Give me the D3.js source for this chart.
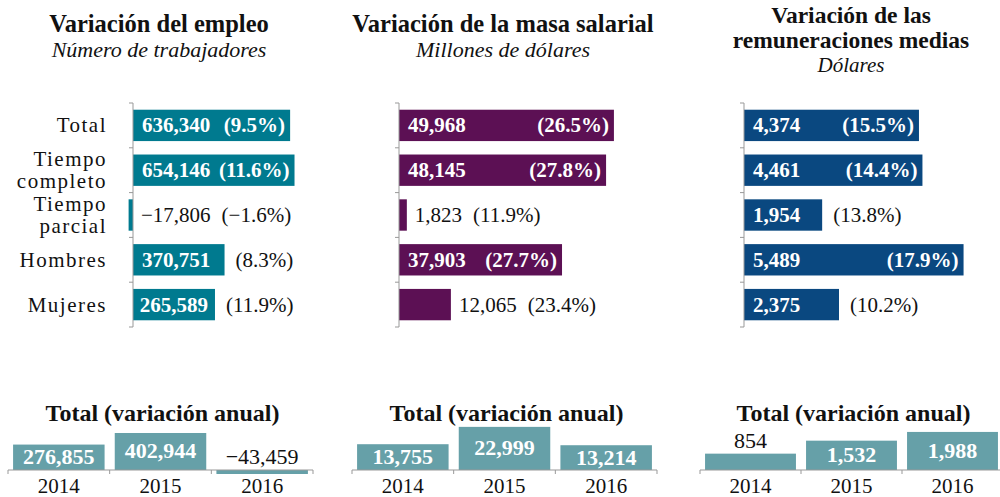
<!DOCTYPE html>
<html>
<head>
<meta charset="utf-8">
<script src="https://cdn.jsdelivr.net/npm/d3@7"></script>
<style>
  body { margin: 0; background: #fff; }
  svg { display: block; font-family: "Liberation Serif", serif; }
  .title { font-weight: bold; font-size: 24.5px; fill: #111; }
  .sub { font-style: italic; font-size: 22px; fill: #111; }
  .cat { font-size: 21px; letter-spacing: 1.5px; fill: #111; }
  .val-in { font-weight: bold; font-size: 21px; fill: #fff; }
  .val-out { font-size: 21px; fill: #111; }
  .big-in { font-weight: bold; font-size: 22px; fill: #fff; }
  .big-out { font-size: 22px; fill: #111; }
  .year { font-size: 21px; fill: #111; }
</style>
</head>
<body>
<div class="chart"></div>
<script>
var categories = ['Total', 'Tiempo|completo', 'Tiempo|parcial', 'Hombres', 'Mujeres'];

var empleo = [636340, 654146, -17806, 370751, 265589];
var empleoPct = [9.5, 11.6, -1.6, 8.3, 11.9];
// bar lengths as the source draws them: its Mujeres bar is longer than 265,589
var empleoBars = [636340, 654146, -17806, 370751, 332000];

var masa = [49968, 48145, 1823, 37903, 12065];
var masaPct = [26.5, 27.8, 11.9, 27.7, 23.4];

var remun = [4374, 4461, 1954, 5489, 2375];
var remunPct = [15.5, 14.4, 13.8, 17.9, 10.2];

var years = ['2014', '2015', '2016'];
var empleoAnual = [276855, 402944, -43459];
var masaAnual = [13755, 22999, 13214];
var remunAnual = [854, 1532, 1988];

var panels = [
  { title: ['Variación del empleo'], titleY: [32], titleSize: 24.5, sub: 'Número de trabajadores', subY: 57, subSize: 22,
    values: empleo, bars: empleoBars, pct: empleoPct, anual: empleoAnual,
    color: '#007a8f', axisX: 133, max: 810000, cx: 159, bx: [8, 313], bmax: 490000 },
  { title: ['Variación de la masa salarial'], titleY: [32], titleSize: 24.5, sub: 'Millones de dólares', subY: 57, subSize: 22,
    values: masa, bars: masa, pct: masaPct, anual: masaAnual,
    color: '#5c1054', axisX: 399, max: 46500, cx: 503, bx: [352, 657], bmax: 24000 },
  { title: ['Variación de las', 'remuneraciones medias'], titleY: [23, 48], titleSize: 23.5, sub: 'Dólares', subY: 72, subSize: 21,
    values: remun, bars: remun, pct: remunPct, anual: remunAnual,
    color: '#0a4880', axisX: 744, max: 5000, cx: 851, bx: [700, 1003], bmax: 2350 }
];

var svg = d3.select('.chart')
  .append('svg')
    .attr('width', 1000)
    .attr('height', 497);

var fmt = d3.format(',');
var fmtPct = function(d) { return '(' + d3.format('.1f')(d) + '%)'; };

var y = d3.scaleBand()
  .domain(categories)
  .range([103, 327])
  .paddingInner(0.3)
  .paddingOuter(0.15);

// category labels (left panel only)
categories.forEach(function(c) {
  var lines = c.split('|');
  var mid = y(c) + y.bandwidth() / 2 + 7;
  var t = svg.append('text').attr('class', 'cat').attr('text-anchor', 'end');
  lines.forEach(function(l, i) {
    t.append('tspan')
      .attr('x', 107)
      .attr('y', mid + (i - (lines.length - 1) / 2) * 22)
      .text(l);
  });
});

panels.forEach(function(p) {
  var g = svg.append('g');

  // titles
  p.title.forEach(function(line, i) {
    g.append('text').attr('class', 'title')
      .style('font-size', p.titleSize + 'px')
      .attr('x', p.cx).attr('y', p.titleY[i])
      .attr('text-anchor', 'middle')
      .text(line);
  });
  g.append('text').attr('class', 'sub')
    .style('font-size', p.subSize + 'px')
    .attr('x', p.cx).attr('y', p.subY)
    .attr('text-anchor', 'middle')
    .text(p.sub);

  /**
   * horizontal bars
   */
  var x = d3.scaleLinear()
    .domain([0, p.max])
    .range([p.axisX, p.axisX + 200]);

  p.bars.forEach(function(b, i) {
    var x0 = x(Math.min(0, b)), x1 = x(Math.max(0, b));
    var top = y(categories[i]);
    g.append('rect')
      .attr('x', x0).attr('y', top)
      .attr('width', x1 - x0).attr('height', y.bandwidth())
      .attr('fill', p.color);

    var base = top + y.bandwidth() / 2 + 7;
    var barW = x1 - x(0);

    var vt = g.append('text').attr('class', 'val-in').attr('y', base).text(fmt(p.values[i]));
    var vw = vt.node().getComputedTextLength();
    var vIn = barW >= vw + 8;
    var vx;
    if (vIn) {
      vx = x(0) + Math.min(9, (barW - vw) / 2);
    } else {
      vt.attr('class', 'val-out');
      vw = vt.node().getComputedTextLength();
      vx = x1 + 8;
    }
    vt.attr('x', vx);
    var vEnd = vx + vw;

    var pt = g.append('text').attr('class', 'val-in').attr('y', base).text(fmtPct(p.pct[i]));
    var pw = pt.node().getComputedTextLength();
    if (vIn && x1 - 5 - pw >= vEnd + 3) {
      pt.attr('x', x1 - 5).attr('text-anchor', 'end');
    } else {
      pt.attr('class', 'val-out').attr('x', Math.max(x1, vEnd) + 11);
    }
  });

  // axis line with ticks at band edges
  var yr = y.range();
  g.append('line')
    .attr('x1', p.axisX).attr('x2', p.axisX)
    .attr('y1', yr[0]).attr('y2', yr[1])
    .attr('stroke', '#999');
  d3.range(categories.length + 1).forEach(function(k) {
    var ty = yr[0] + k * y.step();
    g.append('line')
      .attr('x1', p.axisX - 4).attr('x2', p.axisX)
      .attr('y1', ty).attr('y2', ty)
      .attr('stroke', '#999');
  });

  /**
   * annual totals (bottom)
   */
  var xb = d3.scaleBand()
    .domain(years)
    .range(p.bx)
    .paddingInner(0.1)
    .paddingOuter(0.05);
  var yb = d3.scaleLinear()
    .domain([0, p.bmax])
    .range([470, 425]);

  g.append('text').attr('class', 'title')
    .style('font-size', '24px')
    .attr('x', (p.bx[0] + p.bx[1]) / 2 + 2).attr('y', 421)
    .attr('text-anchor', 'middle')
    .text('Total (variación anual)');

  p.anual.forEach(function(v, i) {
    var y0 = yb(Math.max(0, v)), y1 = yb(Math.min(0, v));
    var bx = xb(years[i]);
    var cx = bx + xb.bandwidth() / 2;
    g.append('rect')
      .attr('x', bx).attr('y', y0)
      .attr('width', xb.bandwidth()).attr('height', y1 - y0)
      .attr('fill', '#66a0a8');

    var inside = v > 0 && (yb(0) - y0) >= 18;
    g.append('text')
      .attr('class', inside ? 'big-in' : 'big-out')
      .attr('x', cx)
      .attr('y', inside ? (y0 + yb(0)) / 2 + 7 : Math.min(y0, yb(0)) - 6)
      .attr('text-anchor', 'middle')
      .text(fmt(v));

    g.append('text').attr('class', 'year')
      .attr('x', cx).attr('y', 493)
      .attr('text-anchor', 'middle')
      .text(years[i]);
  });

  g.append('line')
    .attr('x1', p.bx[0]).attr('x2', p.bx[1])
    .attr('y1', yb(0)).attr('y2', yb(0))
    .attr('stroke', '#999');
  d3.range(years.length + 1).forEach(function(k) {
    var tx = p.bx[0] + k * xb.step();
    g.append('line')
      .attr('x1', tx).attr('x2', tx)
      .attr('y1', yb(0)).attr('y2', yb(0) + 4)
      .attr('stroke', '#999');
  });
});
</script>
</body>
</html>
